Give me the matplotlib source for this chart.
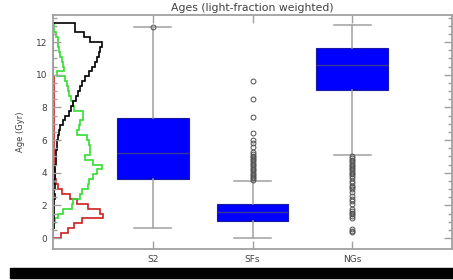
import numpy as np
import matplotlib
matplotlib.use("Agg")
import matplotlib.pyplot as plt
from matplotlib.patches import Rectangle

# Age bins (Gyr) for the side histograms
bin_edges = np.linspace(0, 13.2, 45)

# Side histograms (relative widths), bins 0.3 Gyr from 0
hist_black = [0.005, 0.005, 0.01, 0.01, 0.01, 0.015, 0.01, 0.015, 0.02, 0.015,
              0.02, 0.015, 0.02, 0.02, 0.025, 0.03, 0.03, 0.035, 0.04, 0.045,
              0.05, 0.06, 0.07, 0.10, 0.12, 0.16, 0.18, 0.20, 0.23, 0.25,
              0.27, 0.29, 0.32, 0.36, 0.39, 0.42, 0.44, 0.46, 0.47, 0.49,
              0.37, 0.31, 0.22, 0.22]
hist_green = [0.0, 0.0, 0.01, 0.02, 0.05, 0.10, 0.19, 0.20, 0.27, 0.29,
              0.35, 0.36, 0.40, 0.44, 0.49, 0.40, 0.32, 0.37, 0.37, 0.36,
              0.34, 0.24, 0.26, 0.27, 0.30, 0.30, 0.21, 0.20, 0.18, 0.16,
              0.15, 0.14, 0.12, 0.04, 0.11, 0.10, 0.09, 0.07, 0.06, 0.05,
              0.05, 0.03, 0.01, 0.01]
hist_red = [0.08, 0.15, 0.21, 0.29, 0.50, 0.47, 0.35, 0.24, 0.17, 0.09,
            0.05, 0.03, 0.02, 0.02, 0.015, 0.01, 0.01, 0.01, 0.01, 0.01,
            0.01, 0.01, 0.01, 0.01, 0.01, 0.01, 0.01, 0.01, 0.01, 0.01,
            0.01, 0.01, 0.01, 0.0, 0.0, 0.0, 0.0, 0.0, 0.0, 0.0,
            0.0, 0.0, 0.0, 0.0]

# Box plot statistics
groups = ["S2", "SFs", "NGs"]
q1 = [3.62, 1.06, 9.04]
median = [5.23, 1.60, 10.58]
q3 = [7.36, 2.09, 11.64]
whisk_lo = [0.63, 0.0, 5.09]
whisk_hi = [12.94, 3.48, 13.07]
fliers_s2 = [12.95]
fliers_sfs = [9.59, 8.53, 7.39, 6.43, 6.02, 5.82, 5.57, 5.30, 5.15, 5.05,
              4.95, 4.85, 4.75, 4.65, 4.55, 4.45, 4.35, 4.25, 4.15, 4.05,
              3.95, 3.85, 3.75, 3.65, 3.58]
fliers_ngs = [5.0, 4.9, 4.8, 4.7, 4.6, 4.5, 4.4, 4.3, 4.2, 4.1, 4.0, 3.9,
              3.8, 3.7, 3.5, 3.4, 3.2, 3.1, 3.0, 2.8, 2.6, 2.4, 2.3, 2.1,
              1.75, 1.65, 1.55, 1.45, 1.35, 1.2, 0.55, 0.45, 0.35]

grey = "#a0a0a0"
text_col = "#404040"

fig = plt.figure(figsize=(4.53, 2.80), dpi=100)
ax = fig.add_axes([53 / 453, 31 / 280, 399 / 453, 234 / 280])

# side histograms along the age axis
ax.stairs(hist_red, bin_edges, orientation="horizontal", color="#cc2020", lw=1.2)
ax.stairs(hist_green, bin_edges, orientation="horizontal", color="#33dd33", lw=1.2)
ax.stairs(hist_black, bin_edges, orientation="horizontal", color="black", lw=1.2)

# box plots
all_fliers = [fliers_s2, fliers_sfs, fliers_ngs]
stats = []
for i in range(len(groups)):
    stats.append({"label": groups[i], "q1": q1[i], "med": median[i], "q3": q3[i],
                  "whislo": whisk_lo[i], "whishi": whisk_hi[i],
                  "fliers": all_fliers[i]})

ax.bxp(stats, positions=[1, 2, 3], widths=0.72, capwidths=0.37,
       patch_artist=True,
       boxprops=dict(facecolor="#0000ff", edgecolor="#1a1aa0", lw=0.8),
       medianprops=dict(color="#3a3a90", lw=1.0),
       whiskerprops=dict(color=grey, lw=1.1),
       capprops=dict(color=grey, lw=1.1),
       flierprops=dict(marker="o", markerfacecolor="none",
                       markeredgecolor="#505050", markersize=3.5, mew=0.7))

ax.set_xlim(0, 4)
ax.set_ylim(-0.67, 13.66)
ax.set_xticks([1, 2, 3])
ax.set_xticklabels(groups)
ax.set_yticks(range(0, 13, 2))
ax.set_yticks(np.arange(0, 13.6, 0.5), minor=True)

for s in ax.spines.values():
    s.set_color(grey)
    s.set_linewidth(1.3)
ax.tick_params(which="both", direction="in", top=True, right=True,
               color=grey, labelcolor=text_col, labelsize=6.5, pad=4)
ax.tick_params(which="major", length=5.5, width=1)
ax.tick_params(which="minor", length=3, width=1)

ax.set_ylabel("Age (Gyr)", fontsize=6, color=text_col, labelpad=8)
ax.set_title("Ages (light-fraction weighted)", fontsize=7.8, color=text_col, pad=3)

# black strip along the bottom of the image
fig.patches.append(Rectangle((10 / 453, 2 / 280), 1, 10 / 280,
                             transform=fig.transFigure, color="black"))

fig.savefig("out.png", dpi=100)
